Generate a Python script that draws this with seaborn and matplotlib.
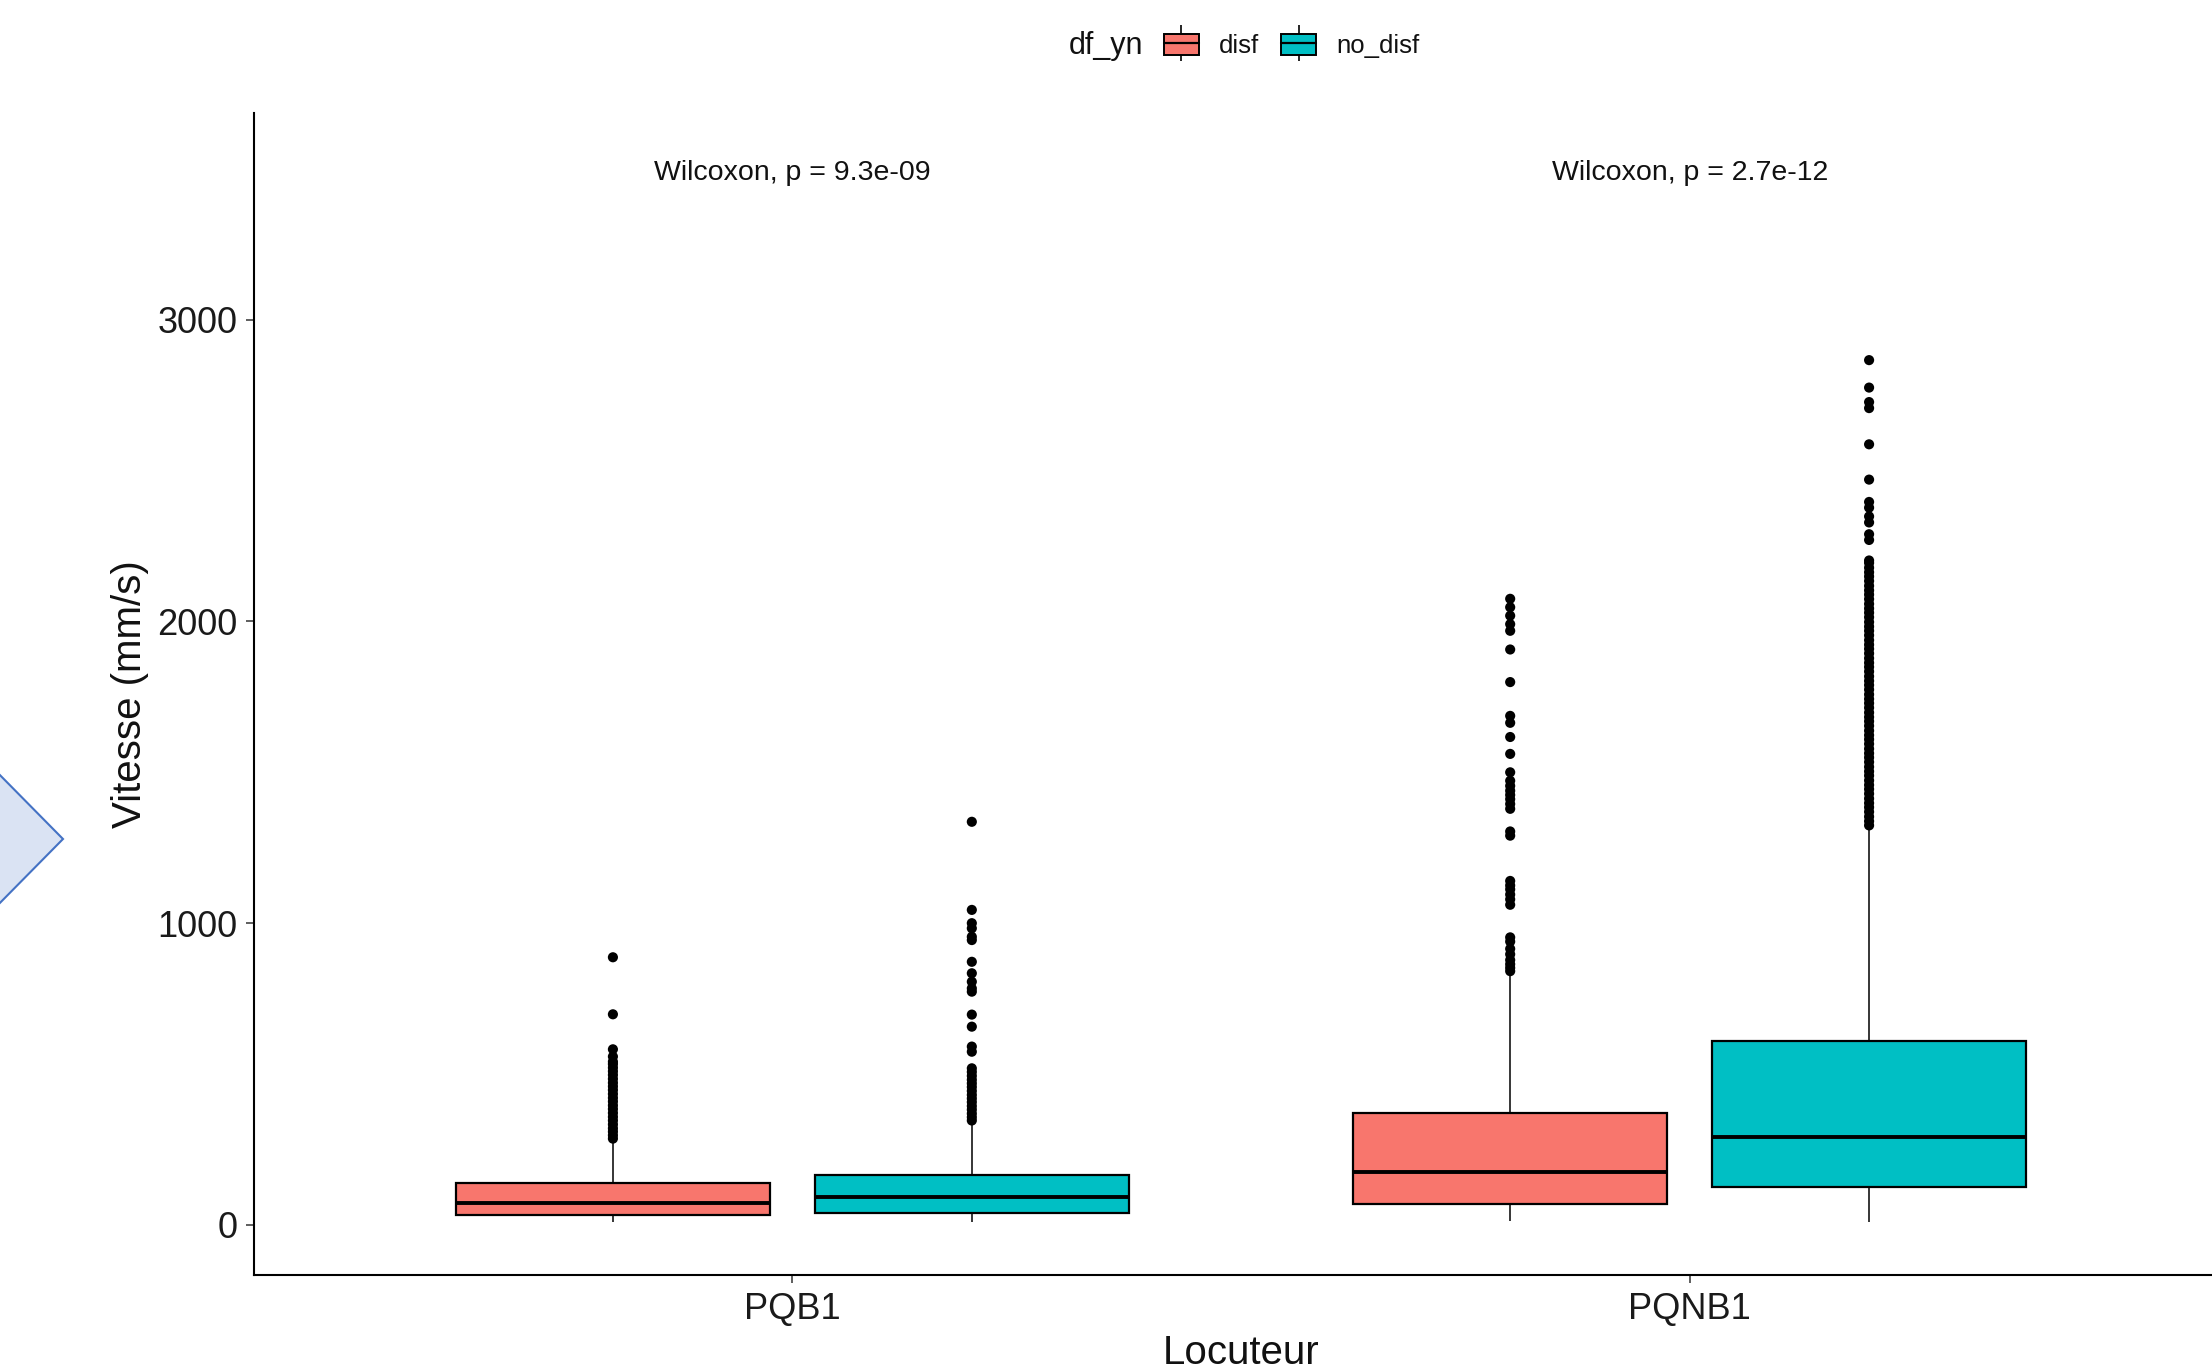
import pandas as pd
import numpy as np
import matplotlib
matplotlib.use("Agg")
import matplotlib.pyplot as plt
import seaborn as sns
from matplotlib.lines import Line2D
from matplotlib.patches import Patch, Polygon
from matplotlib.legend_handler import HandlerTuple

# -----------------------------
# Data
# -----------------------------

speakers = ["PQB1", "PQNB1"]
groups = ["disf", "no_disf"]
colors = {"disf": "#F8766D", "no_disf": "#00BFC4"}

# five numbers per box: whisker low, q1, median, q3, whisker high
box_pqb1_disf = [10, 32, 74, 138, 282]
box_pqb1_nodisf = [8, 39, 91, 164, 342]
box_pqnb1_disf = [14, 68, 175, 371, 832]
box_pqnb1_nodisf = [10, 126, 292, 608, 1318]

# outliers
out_pqb1_disf = [286, 297, 309, 320, 333, 346, 358, 371, 384, 396, 409, 421,
                 434, 447, 459, 471, 484, 497, 509, 521, 533, 541, 558, 582,
                 698, 887]
out_pqb1_nodisf = [346, 357, 369, 382, 394, 407, 419, 431, 444, 457, 469, 481,
                   494, 507, 519, 574, 591, 657, 697, 773, 784, 806, 834, 872,
                   944, 955, 983, 1000, 1044, 1336]
out_pqnb1_disf = [841, 852, 864, 878, 897, 915, 939, 953, 1061, 1079, 1095,
                  1112, 1125, 1140, 1290, 1304, 1379, 1395, 1411, 1425, 1439,
                  1455, 1472, 1500, 1561, 1617, 1664, 1687, 1799, 1907, 1969,
                  1991, 2019, 2047, 2075]
out_pqnb1_nodisf = [1324, 1338, 1353, 1369, 1384, 1398, 1413, 1429, 1444, 1458,
                    1473, 1489, 1503, 1518, 1534, 1549, 1563, 1578, 1594, 1609,
                    1623, 1638, 1654, 1669, 1683, 1698, 1714, 1729, 1743, 1758,
                    1774, 1789, 1803, 1818, 1834, 1849, 1863, 1878, 1894, 1909,
                    1923, 1938, 1954, 1969, 1983, 1998, 2014, 2029, 2043, 2058,
                    2074, 2089, 2103, 2118, 2134, 2149, 2163, 2178, 2194, 2202,
                    2270, 2289, 2328, 2348, 2377, 2396, 2470, 2587, 2707, 2727,
                    2775, 2866]

p_labels = ["Wilcoxon, p = 9.3e-09", "Wilcoxon, p = 2.7e-12"]
y_ticks = [0, 1000, 2000, 3000]

# -----------------------------
# Long tables for seaborn
# -----------------------------

box_sets = {("PQB1", "disf"): box_pqb1_disf, ("PQB1", "no_disf"): box_pqb1_nodisf,
            ("PQNB1", "disf"): box_pqnb1_disf, ("PQNB1", "no_disf"): box_pqnb1_nodisf}
out_sets = {("PQB1", "disf"): out_pqb1_disf, ("PQB1", "no_disf"): out_pqb1_nodisf,
            ("PQNB1", "disf"): out_pqnb1_disf, ("PQNB1", "no_disf"): out_pqnb1_nodisf}

box_df = pd.DataFrame([(s, g, v) for (s, g), vals in box_sets.items() for v in vals],
                      columns=["Locuteur", "df_yn", "Vitesse"])
out_df = pd.DataFrame([(s, g, v) for (s, g), vals in out_sets.items() for v in vals],
                      columns=["Locuteur", "df_yn", "Vitesse"])

# -----------------------------
# Plot
# -----------------------------

sns.set_style("ticks")
plt.rcParams["font.family"] = ["Liberation Sans", "DejaVu Sans"]

W, H = 2212, 1369
fig = plt.figure(figsize=(W / 100, H / 100), dpi=100)
ax = fig.add_axes([254 / W, 1 - 1275 / H, (2228 - 254) / W, (1275 - 113) / H])

sns.boxplot(data=box_df, x="Locuteur", y="Vitesse", hue="df_yn",
            order=speakers, hue_order=groups, palette=colors, saturation=1,
            width=0.8, gap=0.125, whis=(0, 100), linecolor="black",
            linewidth=1.6, showcaps=False,
            medianprops={"linewidth": 2.8},
            whiskerprops={"linewidth": 1.1},
            legend=False, ax=ax)

sns.stripplot(data=out_df, x="Locuteur", y="Vitesse", hue="df_yn",
              order=speakers, hue_order=groups,
              palette={"disf": "black", "no_disf": "black"},
              dodge=True, jitter=False, size=7.3, linewidth=0,
              legend=False, ax=ax)

for i, lab in enumerate(p_labels):
    ax.text(i, 3485, lab, ha="center", va="center", fontsize=20.5, color="#111111")

ax.set_xlim(-0.6, 1.6)
ax.set_ylim(-166, 3685)
ax.set_yticks(y_ticks)
ax.set_xlabel("Locuteur", fontsize=29, labelpad=5, color="#111111")
ax.set_ylabel("Vitesse (mm/s)", fontsize=29, labelpad=6, color="#111111")
ax.tick_params(axis="both", length=5.5, width=1.1, color="#333333",
               pad=6.5, labelsize=26, labelcolor="#1a1a1a")
sns.despine(ax=ax)
for side in ["left", "bottom"]:
    ax.spines[side].set_linewidth(1.5)
    ax.spines[side].set_color("black")

# legend on top, title inline
fig.text(1069 / W, 1 - 46 / H, "df_yn", fontsize=22, ha="left", va="center",
         color="#111111")
handles = []
for g in groups:
    whisk = Line2D([], [], ls="none", marker="|", markersize=26,
                   markeredgewidth=1.2, color="black")
    box = Patch(facecolor=colors[g], edgecolor="black", linewidth=1.4)
    med = Line2D([], [], color="black", linewidth=1.6)
    handles.append((whisk, box, med))
fig.legend(handles, groups, handler_map={tuple: HandlerTuple(ndivide=1, pad=0)},
           loc="center left", bbox_to_anchor=(1164 / W, 1 - 46 / H),
           ncol=2, frameon=False, fontsize=18.5, borderpad=0, borderaxespad=0,
           handlelength=1.36, handleheight=0.93, handletextpad=0.78,
           columnspacing=0.86, numpoints=1, labelcolor="#111111")

# cropped slide arrow at the left edge
arrow = Polygon([(-10 / W, 1 - 765 / H), (63 / W, 1 - 839 / H), (-10 / W, 1 - 913 / H)],
                closed=True, transform=fig.transFigure, facecolor="#dae3f3",
                edgecolor="#4472c4", linewidth=1.5)
fig.patches.append(arrow)

fig.savefig("out.png", dpi=100)
